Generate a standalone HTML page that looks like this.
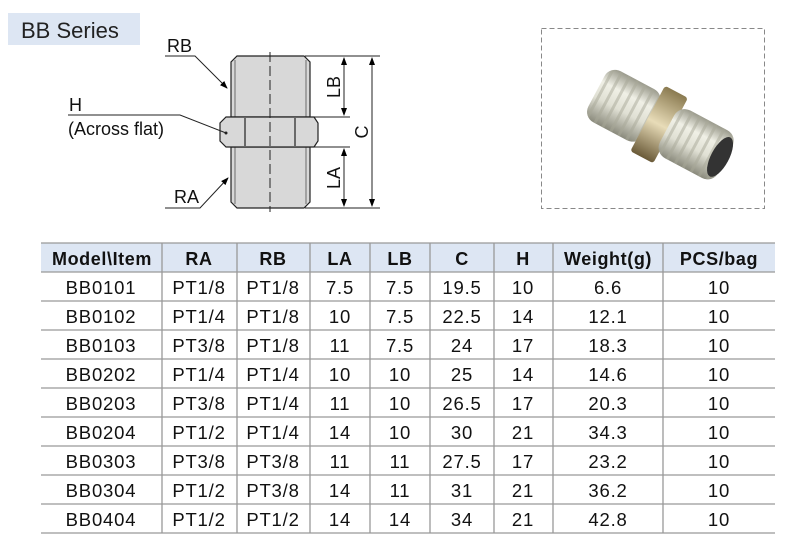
<!DOCTYPE html>
<html><head><style>
body{margin:0;width:785px;height:540px;background:#fff;overflow:hidden;font-family:"Liberation Sans",Arial,sans-serif}
svg{position:absolute;left:0;top:0}
</style></head><body>
<svg width="785" height="540" viewBox="0 0 785 540" font-family="Liberation Sans, Arial, sans-serif">
<defs>
<marker id="ar" markerWidth="8" markerHeight="8" refX="7" refY="4" orient="auto" markerUnits="userSpaceOnUse"><path d="M0,1 L8,4 L0,7Z" fill="#000"/></marker>
<marker id="ar2" markerWidth="8" markerHeight="8" refX="1" refY="4" orient="auto" markerUnits="userSpaceOnUse"><path d="M8,1 L0,4 L8,7Z" fill="#000"/></marker>
<linearGradient id="thr" x1="0" y1="0" x2="0" y2="1">
<stop offset="0" stop-color="#9a9a8c"/><stop offset="0.3" stop-color="#f0f0e6"/><stop offset="0.6" stop-color="#e0e0d4"/><stop offset="1" stop-color="#8a8a7c"/></linearGradient>
<linearGradient id="hexg" x1="0" y1="0" x2="0" y2="1">
<stop offset="0" stop-color="#8a7a50"/><stop offset="0.5" stop-color="#e8dcb8"/><stop offset="1" stop-color="#6a5a38"/></linearGradient>
<pattern id="ribs" width="9" height="10" patternUnits="userSpaceOnUse"><rect width="9" height="10" fill="none"/><rect x="6" width="3" height="10" fill="#a8a898" opacity="0.5"/></pattern>
</defs>
<rect x="8" y="13" width="132" height="32" fill="#dde6f3"/>
<text x="21" y="38" font-size="22" fill="#222">BB Series</text>
<g stroke="#222" stroke-width="1.2" fill="#d8d8d8">
<path d="M231,117 L231,62 L237,56 L304,56 L310,62 L310,117Z"/>
<path d="M231,147 L231,202 L237,208 L304,208 L310,202 L310,147Z"/>
<path d="M226,117 L314,117 L318,123 L318,141 L314,147 L226,147 L220,141 L220,123Z"/>
<line x1="245" y1="118" x2="245" y2="146"/><line x1="295" y1="118" x2="295" y2="146"/>
<line x1="235" y1="60" x2="235" y2="117" stroke-width="0.6"/><line x1="306" y1="60" x2="306" y2="117" stroke-width="0.6"/>
<line x1="235" y1="147" x2="235" y2="204" stroke-width="0.6"/><line x1="306" y1="147" x2="306" y2="204" stroke-width="0.6"/>
</g>
<line x1="270" y1="52" x2="270" y2="212" stroke="#222" stroke-width="1" stroke-dasharray="10,4"/>
<g stroke="#222" stroke-width="1">
<line x1="305" y1="56" x2="380" y2="56"/><line x1="310" y1="117" x2="350" y2="117"/>
<line x1="310" y1="147" x2="350" y2="147"/><line x1="305" y1="208" x2="380" y2="208"/>
<line x1="344" y1="58" x2="344" y2="115" marker-start="url(#ar2)" marker-end="url(#ar)"/>
<line x1="344" y1="149" x2="344" y2="206" marker-start="url(#ar2)" marker-end="url(#ar)"/>
<line x1="372" y1="58" x2="372" y2="206" marker-start="url(#ar2)" marker-end="url(#ar)"/>
<polyline points="165,56 195,56 227,88" fill="none" marker-end="url(#ar)"/>
<polyline points="68,115 180,115 226,133" fill="none"/>
<polyline points="165,208 200,208 228,178" fill="none" marker-end="url(#ar)"/>
</g>
<circle cx="226" cy="133" r="1.5" fill="#222"/>
<g font-size="18" fill="#111">
<text x="167" y="52">RB</text>
<text x="69" y="111">H</text>
<text x="68" y="135">(Across flat)</text>
<text x="174" y="203">RA</text>
<text transform="translate(340,87) rotate(-90)" text-anchor="middle">LB</text>
<text transform="translate(340,178) rotate(-90)" text-anchor="middle">LA</text>
<text transform="translate(368,132) rotate(-90)" text-anchor="middle">C</text>
</g>
<rect x="541.5" y="28.5" width="223" height="180" fill="#fff" stroke="#888" stroke-dasharray="5,3"/>
<g transform="rotate(28 660 125)">
<rect x="588" y="96" width="62" height="58" rx="12" fill="url(#thr)"/>
<rect x="588" y="96" width="62" height="58" rx="12" fill="url(#ribs)"/>
<rect x="646" y="88" width="26" height="74" rx="3" fill="url(#hexg)"/>
<rect x="668" y="98" width="66" height="54" rx="12" fill="url(#thr)"/>
<rect x="668" y="98" width="66" height="54" rx="12" fill="url(#ribs)"/>
<ellipse cx="728" cy="125" rx="9" ry="22" fill="#333"/>
</g>
<rect x="41" y="243" width="734" height="29" fill="#dde6f3"/>
<g stroke="#999" stroke-width="1.3">
<line x1="41" y1="243" x2="775" y2="243"/>
<line x1="41" y1="272" x2="775" y2="272"/><line x1="41" y1="301" x2="775" y2="301"/>
<line x1="41" y1="330" x2="775" y2="330"/><line x1="41" y1="359" x2="775" y2="359"/>
<line x1="41" y1="388" x2="775" y2="388"/><line x1="41" y1="417" x2="775" y2="417"/>
<line x1="41" y1="446" x2="775" y2="446"/><line x1="41" y1="475" x2="775" y2="475"/>
<line x1="41" y1="504" x2="775" y2="504"/><line x1="41" y1="533" x2="775" y2="533"/>
<line x1="162" y1="243" x2="162" y2="533"/><line x1="237" y1="243" x2="237" y2="533"/>
<line x1="310" y1="243" x2="310" y2="533"/><line x1="370" y1="243" x2="370" y2="533"/>
<line x1="430" y1="243" x2="430" y2="533"/><line x1="494" y1="243" x2="494" y2="533"/>
<line x1="553" y1="243" x2="553" y2="533"/><line x1="663" y1="243" x2="663" y2="533"/>
</g>
<g font-size="18" font-weight="bold" fill="#111" text-anchor="middle" letter-spacing="0.6">
<text x="102" y="265">Model\Item</text><text x="199" y="265">RA</text><text x="273" y="265">RB</text>
<text x="340" y="265">LA</text><text x="400" y="265">LB</text><text x="462" y="265">C</text>
<text x="523" y="265">H</text><text x="608" y="265">Weight(g)</text><text x="719" y="265">PCS/bag</text>
</g>
<g font-size="18.5" fill="#111" text-anchor="middle" letter-spacing="0.8">
<g transform="translate(0,294)"><text x="101">BB0101</text><text x="199">PT1/8</text><text x="273">PT1/8</text><text x="340">7.5</text><text x="400">7.5</text><text x="462">19.5</text><text x="523">10</text><text x="608">6.6</text><text x="719">10</text></g>
<g transform="translate(0,323)"><text x="101">BB0102</text><text x="199">PT1/4</text><text x="273">PT1/8</text><text x="340">10</text><text x="400">7.5</text><text x="462">22.5</text><text x="523">14</text><text x="608">12.1</text><text x="719">10</text></g>
<g transform="translate(0,352)"><text x="101">BB0103</text><text x="199">PT3/8</text><text x="273">PT1/8</text><text x="340">11</text><text x="400">7.5</text><text x="462">24</text><text x="523">17</text><text x="608">18.3</text><text x="719">10</text></g>
<g transform="translate(0,381)"><text x="101">BB0202</text><text x="199">PT1/4</text><text x="273">PT1/4</text><text x="340">10</text><text x="400">10</text><text x="462">25</text><text x="523">14</text><text x="608">14.6</text><text x="719">10</text></g>
<g transform="translate(0,410)"><text x="101">BB0203</text><text x="199">PT3/8</text><text x="273">PT1/4</text><text x="340">11</text><text x="400">10</text><text x="462">26.5</text><text x="523">17</text><text x="608">20.3</text><text x="719">10</text></g>
<g transform="translate(0,439)"><text x="101">BB0204</text><text x="199">PT1/2</text><text x="273">PT1/4</text><text x="340">14</text><text x="400">10</text><text x="462">30</text><text x="523">21</text><text x="608">34.3</text><text x="719">10</text></g>
<g transform="translate(0,468)"><text x="101">BB0303</text><text x="199">PT3/8</text><text x="273">PT3/8</text><text x="340">11</text><text x="400">11</text><text x="462">27.5</text><text x="523">17</text><text x="608">23.2</text><text x="719">10</text></g>
<g transform="translate(0,497)"><text x="101">BB0304</text><text x="199">PT1/2</text><text x="273">PT3/8</text><text x="340">14</text><text x="400">11</text><text x="462">31</text><text x="523">21</text><text x="608">36.2</text><text x="719">10</text></g>
<g transform="translate(0,526)"><text x="101">BB0404</text><text x="199">PT1/2</text><text x="273">PT1/2</text><text x="340">14</text><text x="400">14</text><text x="462">34</text><text x="523">21</text><text x="608">42.8</text><text x="719">10</text></g>
</g>
</svg>
</body></html>
